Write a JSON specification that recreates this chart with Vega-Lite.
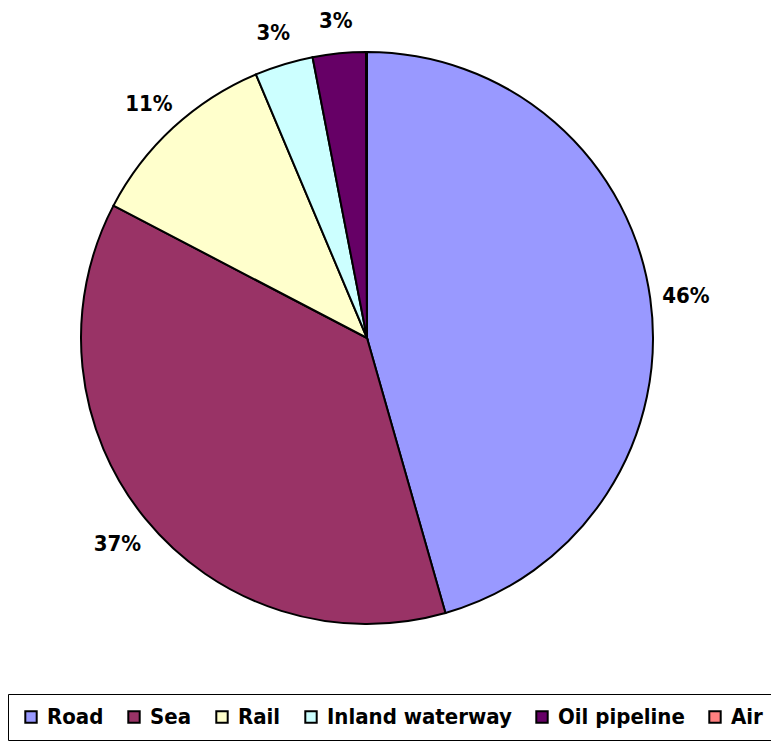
{
  "$schema": "https://vega.github.io/schema/vega-lite/v6.json",
  "width": 734,
  "height": 676,
  "autosize": "none",
  "padding": {"left": 0, "top": 0, "right": 37, "bottom": 66},
  "background": "white",
  "config": {"view": {"stroke": null}},
  "data": {"values": [
    {"mode": "Road", "share": 0.456},
    {"mode": "Sea", "share": 0.371},
    {"mode": "Rail", "share": 0.110},
    {"mode": "Inland waterway", "share": 0.033},
    {"mode": "Oil pipeline", "share": 0.030},
    {"mode": "Air", "share": 0.0005}
  ]},
  "encoding": {
    "theta": {"field": "share", "type": "quantitative", "stack": true},
    "order": {"field": "share", "type": "quantitative", "sort": "descending"},
    "color": {
      "field": "mode",
      "type": "nominal",
      "scale": {
        "domain": ["Road", "Sea", "Rail", "Inland waterway", "Oil pipeline", "Air"],
        "range": ["#9999FF", "#993366", "#FFFFCC", "#CCFFFF", "#660066", "#FF8080"]
      },
      "legend": {
        "title": null,
        "orient": "none",
        "legendX": 8,
        "legendY": 694,
        "direction": "horizontal",
        "columns": 6,
        "symbolType": "square",
        "symbolSize": 130,
        "symbolStrokeColor": "black",
        "symbolStrokeWidth": 2,
        "symbolOpacity": 1,
        "labelFont": "DejaVu Sans Condensed",
        "labelFontWeight": "bold",
        "labelFontSize": 22,
        "labelColor": "black",
        "labelLimit": 400,
        "labelOffset": 5,
        "columnPadding": 19,
        "padding": 12,
        "fillColor": "white",
        "strokeColor": "black"
      }
    }
  },
  "layer": [
    {"mark": {"type": "arc", "radius": 286, "stroke": "black", "strokeWidth": 2}},
    {
      "transform": [{"filter": "datum.share >= 0.01"}],
      "mark": {"type": "text", "radius": 322, "font": "DejaVu Sans Condensed", "fontWeight": "bold", "fontSize": 22, "dy": 3},
      "encoding": {
        "text": {"field": "share", "type": "quantitative", "format": ".0%"},
        "color": {"value": "black"}
      }
    }
  ]
}
